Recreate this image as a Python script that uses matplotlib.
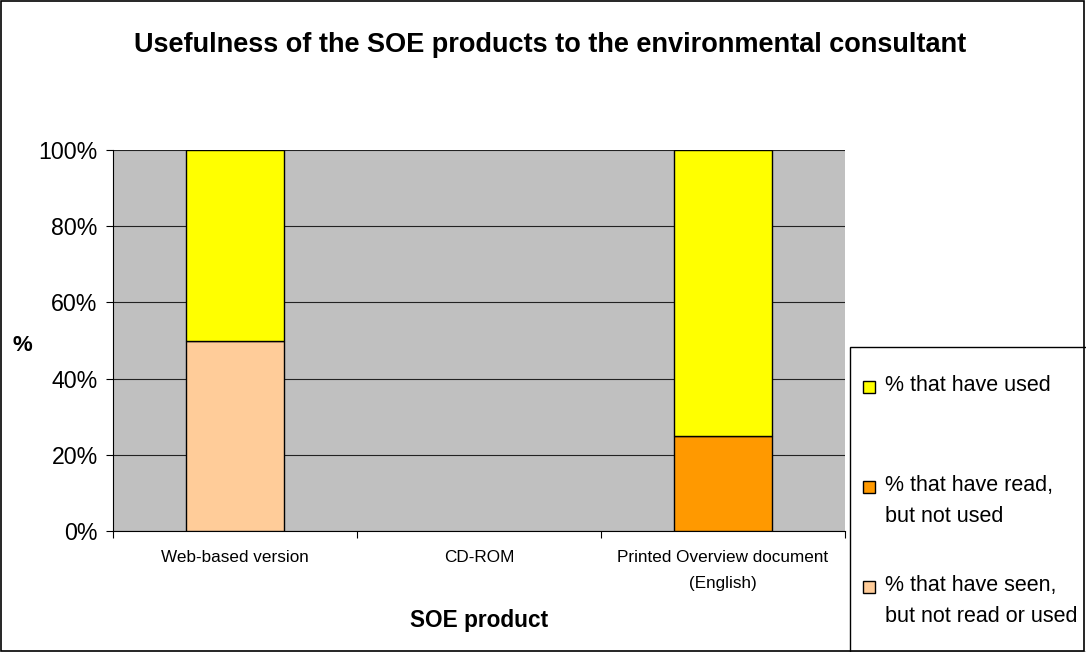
import matplotlib
matplotlib.use("Agg")
import matplotlib.pyplot as plt
from matplotlib.patches import Rectangle
import numpy as np

plt.rcParams['font.family'] = ['Liberation Sans', 'DejaVu Sans']

# data
products = ["Web-based version", "CD-ROM", "Printed Overview document\n(English)"]
seen_not_read = [50, 0, 0]
read_not_used = [0, 0, 25]
have_used = [50, 0, 75]

series_labels = ["% that have seen,\nbut not read or used",
                 "% that have read,\nbut not used",
                 "% that have used"]
colors = ["#FFCC99", "#FF9900", "#FFFF00"]

W, H = 1086, 652
fig = plt.figure(figsize=(W / 100, H / 100), dpi=100)
ax = fig.add_axes([113 / W, 1 - 531 / H, 732 / W, 381 / H])
ax.set_facecolor("#C0C0C0")

x = np.arange(len(products))
bottom = np.zeros(len(products))
for vals, col in zip([seen_not_read, read_not_used, have_used], colors):
    vals = np.array(vals, dtype=float)
    mask = vals > 0
    ax.bar(x[mask], vals[mask], width=0.4, bottom=bottom[mask], color=col,
           edgecolor="black", linewidth=1.0, zorder=3)
    bottom += vals

ax.set_xlim(-0.5, 2.5)
ax.set_ylim(0, 100)
ax.set_yticks([0, 20, 40, 60, 80, 100])
ax.set_yticklabels([f"{v}%" for v in range(0, 101, 20)], fontsize=16.7)
ax.yaxis.grid(True, color="#222222", linewidth=0.8, zorder=1)
ax.set_axisbelow(True)

ax.set_xticks([-0.5, 0.5, 1.5, 2.5])
ax.set_xticklabels([])
ax.set_xticks(x, minor=True)
ax.set_xticklabels(products, minor=True, fontsize=12.3, linespacing=1.85)
ax.tick_params(axis="x", which="minor", length=0, pad=14)
ax.tick_params(axis="x", which="major", length=5, direction="out")
ax.tick_params(axis="y", length=5, direction="out", pad=6)

for s in ["top", "right"]:
    ax.spines[s].set_visible(False)

fig.text(479 / W, 1 - 620 / H, "SOE product", fontsize=16.3, fontweight="bold",
         ha="center", va="center")
fig.text(22 / W, 1 - 345 / H, "%", fontsize=16, fontweight="bold",
         va="center", ha="center")
fig.text(550 / W, 1 - 45 / H,
         "Usefulness of the SOE products to the environmental consultant",
         fontsize=19.5, fontweight="bold", ha="center", va="center")

# legend box, running off the right and bottom edges like the original
fig.patches.append(Rectangle((850 / W, 0), 1, 1 - 347 / H, transform=fig.transFigure,
                             facecolor="white", edgecolor="black", linewidth=1.0))
entry_y = [587, 487, 387]
for lab, col, yy in zip(series_labels, colors, entry_y):
    fig.patches.append(Rectangle((863 / W, 1 - (yy + 6) / H), 12 / W, 12 / H,
                                 transform=fig.transFigure, facecolor=col,
                                 edgecolor="black", linewidth=1.0))
    fig.text(885 / W, 1 - (yy - 12) / H, lab, fontsize=15.5, ha="left", va="top",
             linespacing=1.6)

fig.patches.append(Rectangle((0.001, 0.001), 0.997, 0.997, transform=fig.transFigure,
                             fill=False, edgecolor="black", linewidth=1.2))

fig.savefig("out.png", dpi=100)
